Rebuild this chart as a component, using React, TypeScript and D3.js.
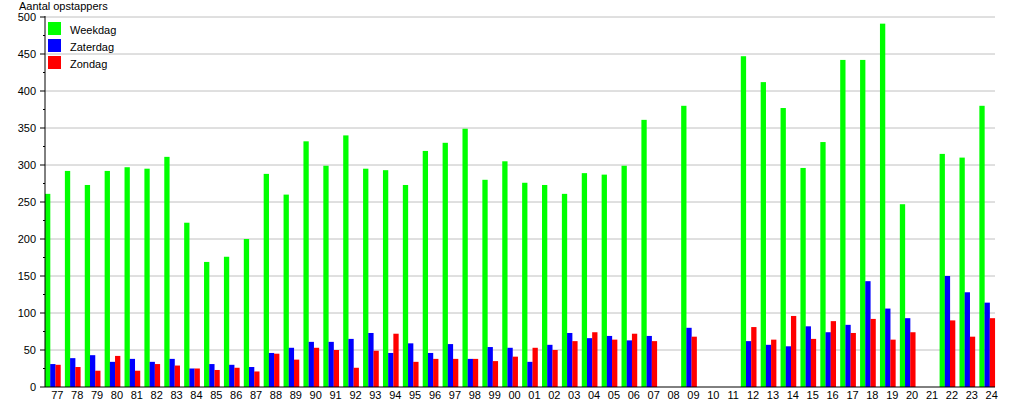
import React from "react";
import * as d3 from "d3";

const categories = ["77","78","79","80","81","82","83","84","85","86","87","88","89","90","91","92","93","94","95","96","97","98","99","00","01","02","03","04","05","06","07","08","09","10","11","12","13","14","15","16","17","18","19","20","21","22","23","24"];
const weekdag = [261,292,273,292,297,295,311,222,169,176,200,288,260,332,299,340,295,293,273,319,330,349,280,305,276,273,261,289,287,299,361,0,380,0,0,447,412,377,296,331,442,442,491,247,0,315,310,380];
const zaterdag = [31,39,43,34,38,34,38,25,31,30,27,46,53,61,61,65,73,46,59,46,58,38,54,53,34,57,73,66,69,63,69,0,80,0,0,62,57,55,82,74,84,143,106,93,0,150,128,114];
const zondag = [30,27,22,42,22,31,29,25,23,26,21,45,37,53,50,26,49,72,34,38,38,38,35,41,53,50,62,74,64,72,62,0,68,0,0,81,64,96,65,89,73,92,64,74,0,90,68,93];
const yTicks = [0,50,100,150,200,250,300,350,400,450,500];
const minorTicks = [25,75,125,175,225,275,325,375,425,475];
const seriesNames = ["Weekdag","Zaterdag","Zondag"];
const seriesColors = ["#00ff00","#0000ff","#ff0000"];
const yTitle = "Aantal opstappers";

export default function App() {
  const W = 1015, H = 400;
  const left = 45, right = 995, top = 17, bottom = 387;
  const x = d3.scaleBand<string>().domain(categories).range([left, left + 19.88 * categories.length]).padding(0);
  const y = d3.scaleLinear().domain([0, 500]).range([bottom, top]);
  const barW = 5.3;
  const series = [weekdag, zaterdag, zondag];
  const font = "'Liberation Sans', Arial, sans-serif";
  return (
    <svg width={W} height={H} style={{ position: "absolute", left: 0, top: 0 }} fontFamily={font}>
      <rect x={0} y={0} width={W} height={H} fill="#fff" />
      {yTicks.filter(t => t > 0).map(t => (
        <line key={"g" + t} x1={left} x2={right} y1={y(t)} y2={y(t)} stroke="#c0c0c0" strokeWidth={1} />
      ))}
      {series.map((vals, si) =>
        vals.map((v, i) => v > 0 ? (
          <rect key={si + "-" + i} x={(x(categories[i]) as number) + si * 5.2} y={y(v)} width={barW} height={bottom - y(v)} fill={seriesColors[si]} />
        ) : null)
      )}
      <line x1={left} x2={left} y1={top - 1} y2={bottom} stroke="#000" strokeWidth={1} />
      <line x1={left} x2={right} y1={bottom} y2={bottom} stroke="#000" strokeWidth={1} />
      {yTicks.map(t => (
        <g key={"t" + t}>
          <line x1={left - 5} x2={left} y1={y(t)} y2={y(t)} stroke="#000" />
          <text x={36} y={y(t)} dy="0.35em" textAnchor="end" fontSize={11} fill="#000">{t}</text>
        </g>
      ))}
      {minorTicks.map(t => (
        <line key={"m" + t} x1={left - 2} x2={left} y1={y(t)} y2={y(t)} stroke="#000" />
      ))}
      {categories.map((c, i) => (
        <text key={"x" + c} x={(x(c) as number) + 12.3} y={395} dy="0.35em" textAnchor="middle" fontSize={11} fill="#000">{c}</text>
      ))}
      <text x={19} y={10} fontSize={11} fill="#000">{yTitle}</text>
      {seriesNames.map((n, i) => (
        <g key={"l" + n}>
          <rect x={48} y={22 + i * 17} width={13} height={13} fill={seriesColors[i]} />
          <text x={70} y={30 + i * 17} dy="0.35em" fontSize={11} fill="#000">{n}</text>
        </g>
      ))}
    </svg>
  );
}
